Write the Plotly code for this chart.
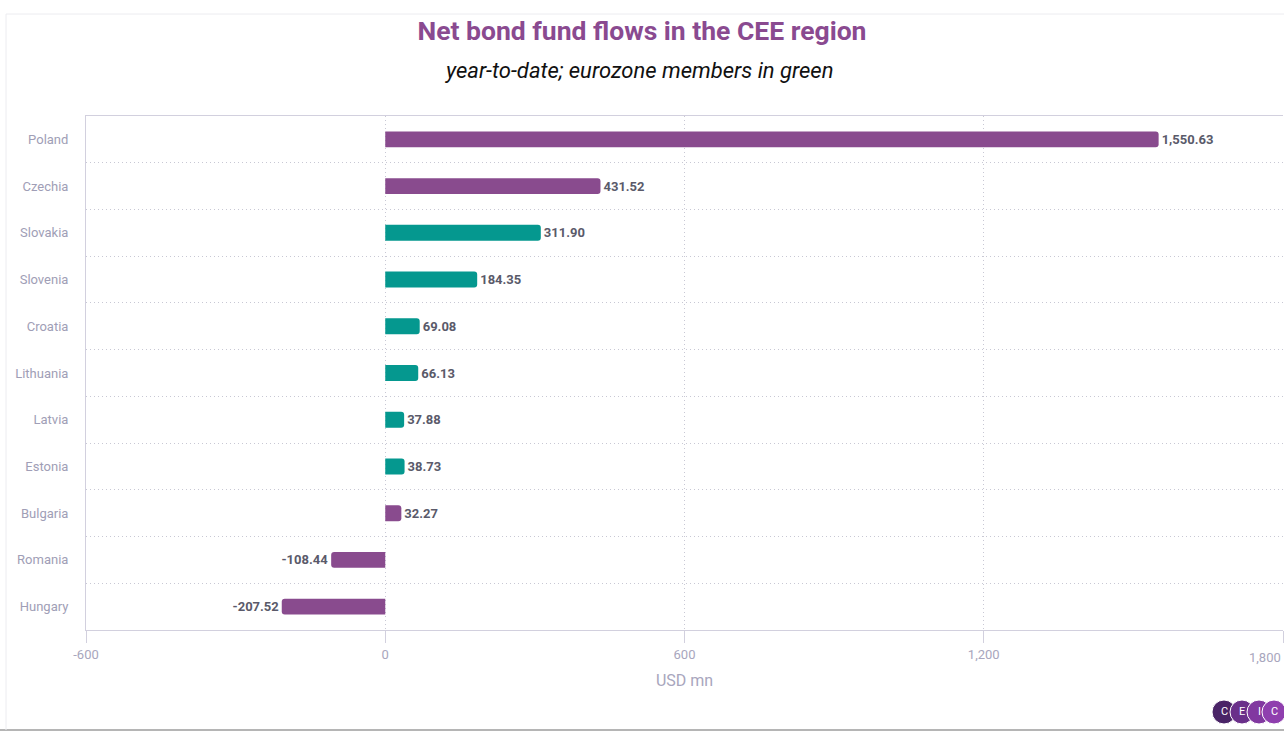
import plotly.graph_objects as go

countries = ["Poland", "Czechia", "Slovakia", "Slovenia", "Croatia", "Lithuania",
             "Latvia", "Estonia", "Bulgaria", "Romania", "Hungary"]
flows = [1550.63, 431.52, 311.90, 184.35, 69.08, 66.13, 37.88, 38.73, 32.27, -108.44, -207.52]
eurozone = [False, False, True, True, True, True, True, True, False, False, False]
x_ticks = [-600, 0, 600, 1200, 1800]
x_ticktext = ["-600", "0", "600", "1,200", ""]

PURPLE = "#894b8e"
TEAL = "#05988f"
colors = [TEAL if e else PURPLE for e in eurozone]

fig = go.Figure(go.Bar(
    x=flows, y=countries, orientation="h",
    marker=dict(color=colors, cornerradius=3, line=dict(width=0)),
    texttemplate="%{x:,.2f}", textposition="outside", cliponaxis=False,
    textfont=dict(family="Roboto", size=13, color="#5a5a6a", weight="bold"),
    hoverinfo="x+y",
))

# plot area in pixels: x 86..1283, y 116..630
L, R, T, B = 86, 1283, 116, 630
def px(p):
    return (p - L) / (R - L)
def py(p):
    return (B - p) / (B - T)

shapes = [
    dict(type="line", xref="paper", yref="paper", x0=px(0), x1=px(1284), y0=py(730), y1=py(730),
         line=dict(color="#b5b5b5", width=2)),
    dict(type="line", xref="paper", yref="paper", x0=px(6), x1=px(6), y0=py(730), y1=py(14),
         line=dict(color="#ececf0", width=1)),
    dict(type="line", xref="paper", yref="paper", x0=px(6), x1=px(1284), y0=py(14), y1=py(14),
         line=dict(color="#ececf0", width=1)),
]
logo_cx = [1224, 1242, 1259, 1274]
logo_col = ["#4a2467", "#6a2f8a", "#8138a0", "#8f3fae"]
logo_txt = ["C", "E", "I", "C"]
annotations = [
    dict(text="<i>year-to-date; eurozone members in green</i>", xref="paper", yref="paper",
         x=px(639), y=py(70), showarrow=False, font=dict(family="Roboto", size=22, color="#111"),
         xanchor="center", yanchor="middle"),
    dict(text=f"{x_ticks[-1]:,}", xref="x", yref="paper", x=x_ticks[-1], y=py(657),
         showarrow=False, xanchor="right", yanchor="middle",
         font=dict(family="Roboto", size=13, color="#a8a6bd")),
]
for cx, col, t in zip(logo_cx, logo_col, logo_txt):
    shapes.append(dict(type="circle", xref="paper", yref="paper",
                       x0=px(cx - 12), x1=px(cx + 12), y0=py(724), y1=py(700),
                       fillcolor=col, line=dict(color="white", width=1)))
    annotations.append(dict(text=t, xref="paper", yref="paper", x=px(cx), y=py(712),
                            showarrow=False, font=dict(family="Roboto", size=11, color="white"),
                            xanchor="center", yanchor="middle"))

fig.update_layout(
    width=1284, height=732,
    margin=dict(l=L, r=1284 - R, t=T, b=732 - B),
    paper_bgcolor="white", plot_bgcolor="white",
    title=dict(text="<b>Net bond fund flows in the CEE region</b>", x=0.5, xref="container",
               y=1 - 31 / 732, yanchor="middle",
               font=dict(family="Roboto", size=26.5, color="#8a4a90")),
    bargap=0.66,
    showlegend=False,
    shapes=shapes,
    annotations=annotations,
    xaxis=dict(
        range=[-600, 1800], tickvals=x_ticks, ticktext=x_ticktext,
        showgrid=True, gridcolor="#c8c8d4", griddash="1px,3px", gridwidth=1,
        zeroline=False, showline=True, linecolor="#d2d0de", linewidth=1, mirror=True,
        ticks="outside", ticklen=12, tickcolor="#d2d0de",
        tickfont=dict(family="Roboto", size=13, color="#a8a6bd"),
        title=dict(text="USD mn", font=dict(family="Roboto", size=16, color="#a8a6bd"), standoff=14),
    ),
    yaxis=dict(
        autorange="reversed", type="category", tickson="boundaries",
        showgrid=True, gridcolor="#c8c8d4", griddash="1px,3px", gridwidth=1,
        showline=True, linecolor="#d2d0de", linewidth=1,
        ticks="", ticklabelstandoff=14,
        tickfont=dict(family="Roboto", size=13, color="#a09eb6"),
    ),
    font=dict(family="Roboto"),
)

fig.write_html("out.html")
